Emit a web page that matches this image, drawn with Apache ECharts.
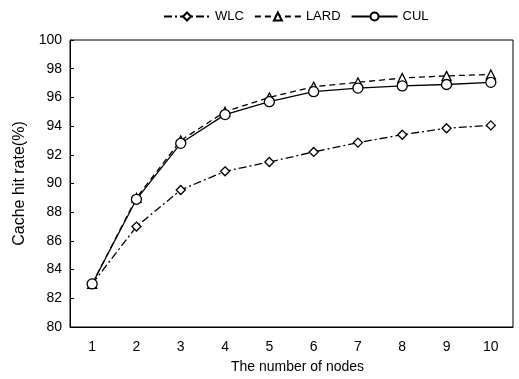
<!DOCTYPE html>
<html>
<head>
<meta charset="utf-8">
<script src="https://cdn.jsdelivr.net/npm/echarts@6/dist/echarts.min.js"></script>
<style>html,body{margin:0;padding:0;background:#fff;}#c{width:519px;height:379px;}</style>
</head>
<body>
<div id="c"></div>
<script>
const categories = ['1','2','3','4','5','6','7','8','9','10'];
const wlc  = [83.0, 87.0, 89.55, 90.85, 91.5, 92.2, 92.85, 93.4, 93.85, 94.05];
const lard = [83.0, 89.0, 93.0, 95.0, 96.0, 96.75, 97.05, 97.35, 97.5, 97.6];
const cul  = [83.0, 88.9, 92.8, 94.8, 95.7, 96.4, 96.65, 96.8, 96.9, 97.05];

const font = 'Liberation Sans, Arial, sans-serif';
const chart = echarts.init(document.getElementById('c'), null, {renderer: 'canvas'});
function mk(name, data, dash, symbol, size) {
  return {
    name: name, type: 'line', data: data,
    symbol: symbol, symbolSize: size,
    lineStyle: {color: '#000', width: 1.3, type: dash},
    itemStyle: {color: '#fff', borderColor: '#000', borderWidth: 1.3},
    emphasis: {disabled: true},
    animation: false
  };
}
chart.setOption({
  animation: false,
  legend: {
    top: 5, left: 158,
    itemWidth: 46, itemHeight: 10, itemGap: 10,
    textStyle: {fontFamily: font, fontSize: 13, color: '#000'},
    data: ['WLC', 'LARD', 'CUL']
  },
  grid: {left: 70, right: 6, top: 40, bottom: 49, show: true, borderColor: '#000', borderWidth: 1},
  xAxis: {
    type: 'category', data: categories, boundaryGap: true,
    name: 'The number of nodes', nameLocation: 'middle', nameGap: 33,
    nameTextStyle: {fontFamily: font, fontSize: 14, color: '#000', padding: [0, 0, 0, 12]},
    axisLine: {lineStyle: {color: '#000'}},
    axisTick: {inside: true, length: 4, lineStyle: {color: '#000'}},
    axisLabel: {fontFamily: font, fontSize: 14, color: '#000', margin: 13},
    splitLine: {show: false}
  },
  yAxis: {
    type: 'value', min: 80, max: 100, interval: 2,
    name: 'Cache hit rate(%)', nameLocation: 'middle', nameGap: 39,
    nameTextStyle: {fontFamily: font, fontSize: 16, color: '#000'},
    axisLine: {show: true, lineStyle: {color: '#000'}},
    axisTick: {show: true, inside: true, length: 4, lineStyle: {color: '#000'}},
    axisLabel: {fontFamily: font, fontSize: 14, color: '#000', margin: 8},
    splitLine: {show: false}
  },
  series: [
    mk('WLC', wlc, [8, 3, 2, 3], 'diamond', 9),
    mk('LARD', lard, [6, 4], 'triangle', 9),
    mk('CUL', cul, 'solid', 'circle', 10)
  ]
});
</script>
</body>
</html>
